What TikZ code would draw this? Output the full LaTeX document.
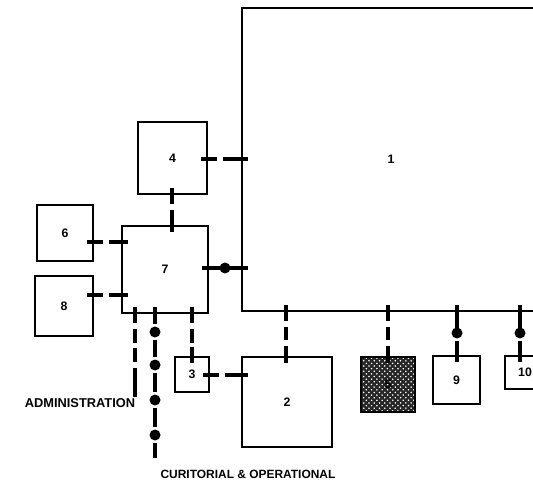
\documentclass[tikz,border=0pt]{standalone}
\usepackage{fontspec}
\setmainfont{Liberation Sans}
\usetikzlibrary{patterns,calc,decorations.markings}

\begin{document}
\begin{tikzpicture}[x=0.02cm,y=-0.02cm,
    box/.style={draw, line width=1.6pt, inner sep=0pt, font=\fontsize{7}{8}\selectfont\bfseries},
    link/.style={line width=2.5pt, dash pattern=on 7.6pt off 3.4pt, dash phase=2.6pt,
      postaction={decorate, decoration={markings,
        mark=at position 0 with {\fill (-4pt,-1.25pt) rectangle (5pt,1.25pt);},
        mark=at position 1 with {\fill (-5pt,-1.25pt) rectangle (4pt,1.25pt);}}}},
    plainlink/.style={line width=2.5pt, shorten <=-4pt, shorten >=-4pt},
    chain/.style={line width=2.5pt},
    dot/.style={circle, fill, inner sep=0pt, minimum size=0.22cm, outer sep=1.2pt},
    caption/.style={font=\fontsize{7.3}{8}\selectfont\bfseries}]
  \clip (0,0) rectangle (533,482);
  % rooms
  \node[box, minimum width=5.96cm, minimum height=6.06cm] (n1) at (391,159.5) {1};
  \node[box, minimum width=1.38cm, minimum height=1.44cm] (n4) at (172.5,158) {4};
  \node[box, minimum width=1.72cm, minimum height=1.74cm] (n7) at (165,269.5) {7};
  \node[box, minimum width=1.12cm, minimum height=1.12cm] (n6) at (65,233) {6};
  \node[box, minimum width=1.16cm, minimum height=1.2cm] (n8) at (64,306) {8};
  \node[box, minimum width=0.68cm, minimum height=0.7cm] (n3) at (192,374.5) {3};
  \node[box, minimum width=1.8cm, minimum height=1.8cm] (n2) at (287,402) {2};
  \node[box, minimum width=1.08cm, minimum height=1.1cm, preaction={fill=black!85},
        pattern=crosshatch dots, pattern color=white] (n5) at (388,384.5) {5};
  \node[box, minimum width=0.94cm, minimum height=0.96cm] (n9) at (456.5,380) {9};
  \node[box, minimum width=0.8cm, minimum height=0.66cm] (n10) at (525,372.5) {10};

  % dots
  \node[dot] (d71) at (225,268) {};
  \node[dot] (d9) at (457,333) {};
  \node[dot] (d10) at (520,333) {};
  \node[dot] (c1) at (155,332) {};
  \node[dot] (c2) at (155,365) {};
  \node[dot] (c3) at (155,400) {};
  \node[dot] (c4) at (155,435) {};
  \coordinate (cend) at (155,458);
  \coordinate (aend) at (135,390);

  % links
  \draw[link] (n4.east |- 0,159) -- (n1.west |- 0,159);
  \draw[link] (172,0 |- n4.south) -- (172,0 |- n7.north);
  \draw[link] (n6.east |- 0,242) -- (n7.west |- 0,242);
  \draw[link] (n8.east |- 0,295) -- (n7.west |- 0,295);
  \draw[plainlink] (n7.east |- d71) -- (n1.west |- d71);
  \draw[link] (192,0 |- n7.south) -- (n3.north);
  \draw[link] (n3.east |- 0,375) -- (n2.west |- 0,375);
  \draw[link] (286,0 |- n1.south) -- (286,0 |- n2.north);
  \draw[link] (n5.north |- n1.south) -- (n5.north);
  \draw[plainlink] (d9 |- n1.south) -- (d9.north);
  \draw[plainlink, shorten <=0pt] (d9.south) -- (d9 |- n9.north);
  \draw[plainlink] (d10 |- n1.south) -- (d10.north);
  \draw[plainlink, shorten <=0pt] (d10.south) -- (d10 |- n10.north);

  % services leaving 7
  \draw[link] (aend |- n7.south) -- (aend);
  \draw[plainlink, shorten >=0pt] (c1 |- n7.south) -- (c1);
  \draw[chain] (c1) -- (c2) (c2) -- (c3) (c3) -- (c4) (c4) -- (cend);

  \node[caption] (admin) at (80,403) {ADMINISTRATION};
  \node[caption, font=\fontsize{6.8}{8}\selectfont\bfseries] (curit) at (248,474) {CURITORIAL \& OPERATIONAL};
\end{tikzpicture}
\end{document}
